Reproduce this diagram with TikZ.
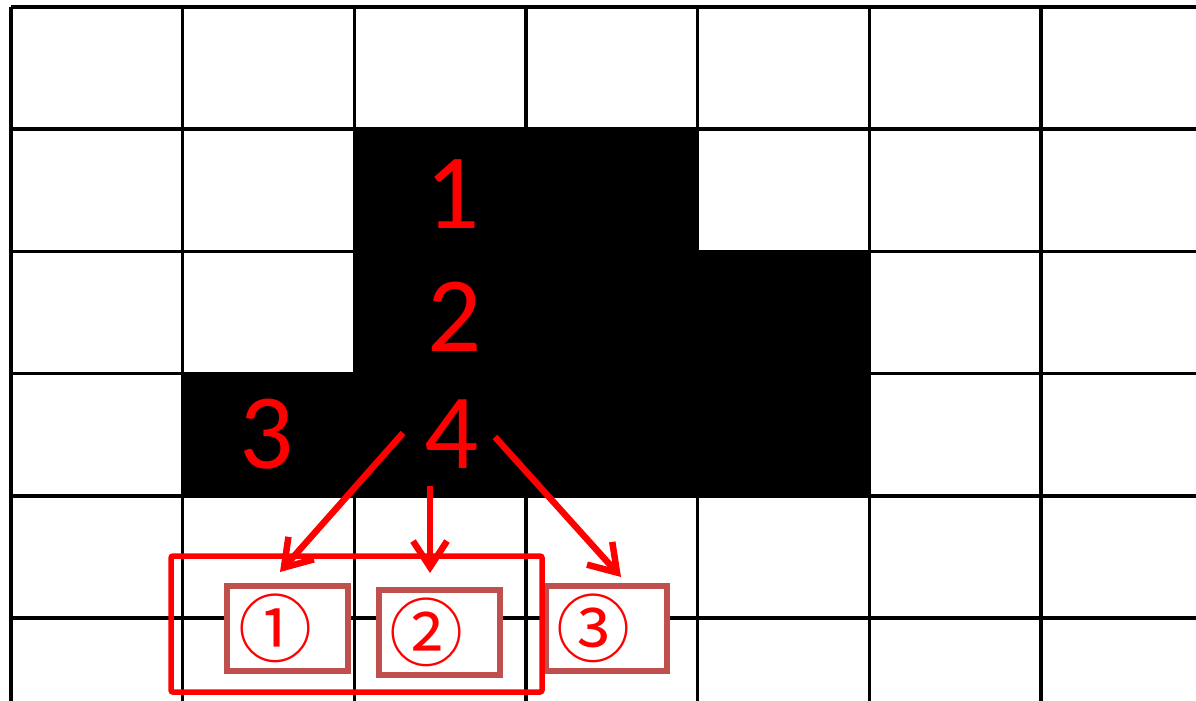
\documentclass[tikz,border=0pt]{standalone}
\usepackage{fontspec}
\setmainfont{Carlito}
\newfontfamily\circfont{Noto Sans CJK JP}
\definecolor{markred}{RGB}{255,0,0}
\definecolor{boxbrown}{RGB}{192,80,77}
\usepackage{tikz}
\usetikzlibrary{arrows.meta, positioning}

\tikzset{
  gridline/.style={line width=3.5pt, black},
  digit/.style={text=markred, inner sep=0pt, font=\fontsize{107}{107}\selectfont},
  pick/.style={draw=boxbrown, fill=white, line width=6pt, minimum width=121pt,
    minimum height=85pt, inner sep=0pt, text=markred, font=\circfont\fontsize{74}{74}\selectfont},
  pickarrow/.style={-{Straight Barb[length=26pt, width=34pt]}, line width=6.5pt, markred},
}

\begin{document}
\begin{tikzpicture}[x=1pt, y=-1pt]
\useasboundingbox (0,0) rectangle (1196,701);
\begin{scope}
\clip (0,0) rectangle (1196,701);

% Filled cells
\fill[black] (355,129) -- (698,129) -- (698,251) -- (869,251) -- (869,496)
  -- (183,496) -- (183,374) -- (355,374) -- cycle;

% Grid
\foreach \i in {0,...,6}
  \draw[gridline] ({11+171.67*\i},7) -- ({11+171.67*\i},720);
\foreach \j in {0,...,5}
  \draw[gridline] (11,{7+122.2*\j}) -- (1220,{7+122.2*\j});
\end{scope}

% Cell numbers
\node[digit] (n1) at (453,194) {1};
\node[digit] (n2) at (455,317) {2};
\node[digit] (n3) at (267,434) {3};
\node[digit] (n4) at (452,434) {4};

% Candidate boxes
\node[pick] (c1) at (287,628) {①\kern24pt};
\node[pick] (c2) at (439,632) {②\kern26pt};
\node[pick] (c3) at (606,628) {③\kern26pt};
\draw[markred, line width=5.5pt, rounded corners=2pt] (171,556) rectangle (542,692);

% Arrows
\draw[pickarrow] ([shift={(-49,-1)}]n4.center) -- ([shift={(-7,-56)}]c1.center);
\draw[pickarrow] ([shift={(-22,52)}]n4.center) -- ([shift={(-9,-59)}]c2.center);
\draw[pickarrow] ([shift={(43,3)}]n4.center) -- ([shift={(15,-51)}]c3.center);
\end{tikzpicture}
\end{document}
